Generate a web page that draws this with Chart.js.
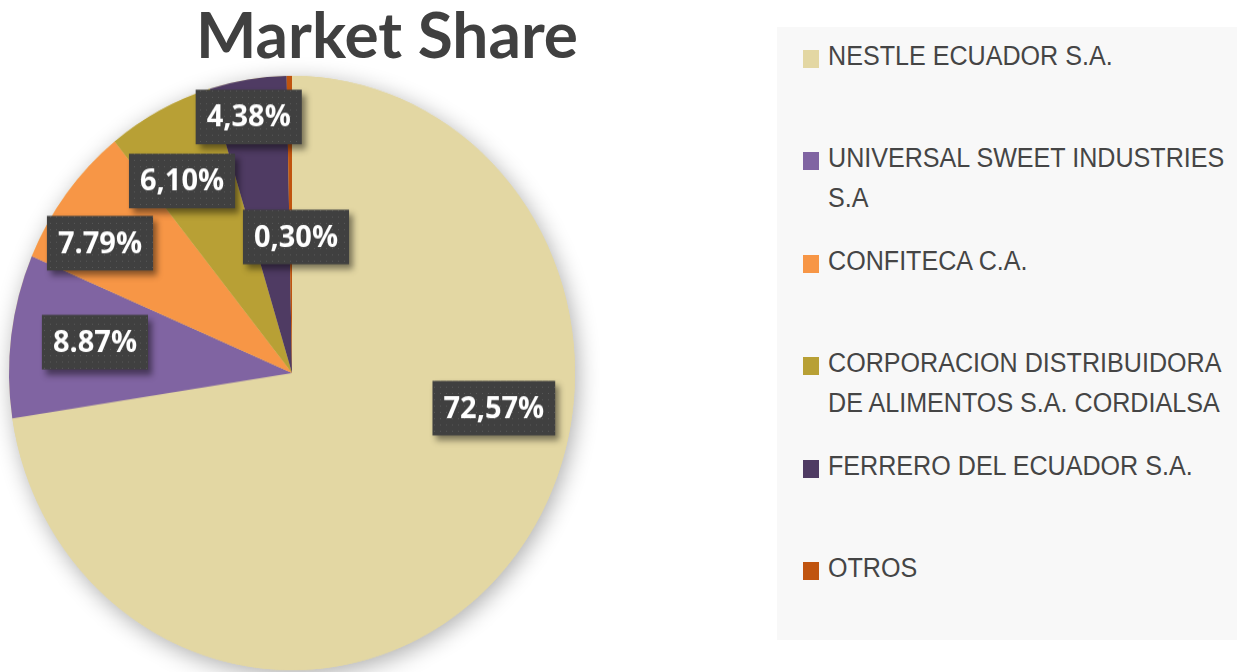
<!DOCTYPE html>
<html>
<head>
<meta charset="utf-8">
<script src="https://cdn.jsdelivr.net/npm/chart.js@4.4.1/dist/chart.umd.min.js"></script>
<style>
  html, body { margin: 0; padding: 0; background: #fff; }
  body { width: 1237px; height: 672px; position: relative; overflow: hidden; font-family: "Open Sans", sans-serif; }
  #title { position: absolute; left: 137px; width: 500px; top: 2px; text-align: center; white-space: nowrap; font: bold 64px/64px Lato, sans-serif; color: #404040; }
  #pie-wrap { position: absolute; left: 0; top: 0; width: 600px; height: 672px; transform: scaleY(1.05); transform-origin: 292px 373px; }
  #legend { position: absolute; left: 777px; top: 27px; width: 460px; height: 613px; background: #f8f8f8; }
  .lg-item { position: absolute; left: 26px; }
  .lg-box { position: absolute; left: 0; top: 14px; width: 16px; height: 18px; }
  .lg-text { position: absolute; left: 25px; top: 0; white-space: nowrap; font: 27px/40px "Liberation Sans", Arial, sans-serif; color: #454545; transform: scaleX(0.93); transform-origin: 0 0; }
</style>
</head>
<body>
<div id="title">Market Share</div>
<div id="pie-wrap"><canvas id="chart-pie" width="600" height="672"></canvas></div>
<div id="legend"></div>
<script>
const categories = [
  'NESTLE ECUADOR S.A.',
  ['UNIVERSAL SWEET INDUSTRIES', 'S.A'],
  'CONFITECA C.A.',
  ['CORPORACION DISTRIBUIDORA', 'DE ALIMENTOS S.A. CORDIALSA'],
  'FERRERO DEL ECUADOR S.A.',
  'OTROS',
];
const shares = [72.57, 8.87, 7.79, 6.10, 4.38, 0.30];
const shareLabels = ['72,57%', '8.87%', '7.79%', '6,10%', '4,38%', '0,30%'];
const colors = ['#E3D7A3', '#8064A2', '#F79646', '#B8A035', '#4F3B63', '#C0540F'];

// where each data label sits: shift from slice middle (deg) and fraction of radius
const labelShift = [-31.2, 1.3, -4.4, -3.2, -1.1, 2.3];
const labelDist = [0.723, 0.704, 0.807, 0.754, 0.875, 0.458];

// dotted pattern for the label boxes
const dots = document.createElement('canvas');
dots.width = 6; dots.height = 6;
const dctx = dots.getContext('2d');
dctx.fillStyle = 'rgba(255,255,255,0.13)';
dctx.fillRect(2, 2, 1, 1);

const pieShadow = {
  id: 'pieShadow',
  beforeDatasetsDraw(chart) {
    const arc = chart.getDatasetMeta(0).data[0];
    if (!arc) return;
    const { x, y, outerRadius } = arc.getProps(['x', 'y', 'outerRadius'], true);
    const ctx = chart.ctx;
    ctx.save();
    ctx.shadowColor = 'rgba(0,0,0,0.32)';
    ctx.shadowBlur = 22;
    ctx.shadowOffsetX = 3;
    ctx.shadowOffsetY = 5;
    ctx.fillStyle = colors[0];
    ctx.beginPath();
    ctx.arc(x, y, outerRadius, 0, Math.PI * 2);
    ctx.fill();
    ctx.restore();
  },
};

const boxLabels = {
  id: 'boxLabels',
  afterDatasetsDraw(chart) {
    const ctx = chart.ctx;
    const pattern = ctx.createPattern(dots, 'repeat');
    chart.getDatasetMeta(0).data.forEach((arc, i) => {
      const p = arc.getProps(['x', 'y', 'startAngle', 'endAngle', 'outerRadius'], true);
      const a = (p.startAngle + p.endAngle) / 2 + labelShift[i] * Math.PI / 180;
      const r = labelDist[i] * p.outerRadius;
      const cx = p.x + Math.cos(a) * r;
      const cy = p.y + Math.sin(a) * r;
      ctx.save();
      ctx.font = 'bold 29px "Open Sans", sans-serif';
      const w = ctx.measureText(shareLabels[i]).width + 22;
      const h = 52;
      ctx.shadowColor = 'rgba(0,0,0,0.45)';
      ctx.shadowBlur = 6;
      ctx.shadowOffsetX = 4;
      ctx.shadowOffsetY = 5;
      ctx.fillStyle = '#404040';
      ctx.fillRect(cx - w / 2, cy - h / 2, w, h);
      ctx.shadowColor = 'transparent';
      ctx.fillStyle = pattern;
      ctx.fillRect(cx - w / 2, cy - h / 2, w, h);
      ctx.fillStyle = '#ffffff';
      ctx.textAlign = 'center';
      ctx.textBaseline = 'middle';
      ctx.fillText(shareLabels[i], cx, cy + 1);
      ctx.restore();
    });
  },
};

new Chart(document.getElementById('chart-pie').getContext('2d'), {
  type: 'pie',
  data: {
    labels: categories,
    datasets: [{ data: shares, backgroundColor: colors, borderWidth: 0 }],
  },
  options: {
    responsive: false,
    animation: false,
    layout: { padding: { left: 9, right: 25, top: 90, bottom: 16 } },
    plugins: {
      legend: { display: false },
      tooltip: { enabled: false },
    },
  },
  plugins: [pieShadow, boxLabels],
});

// Legend
const legend = document.getElementById('legend');
categories.forEach((c, i) => {
  const item = document.createElement('div');
  item.className = 'lg-item';
  item.style.top = `${9 + 102.4 * i}px`;
  const text = Array.isArray(c) ? c.join('<br>') : c;
  item.innerHTML = `<div class="lg-box" style="background:${colors[i]}"></div><div class="lg-text">${text}</div>`;
  legend.appendChild(item);
});
</script>
</body>
</html>
